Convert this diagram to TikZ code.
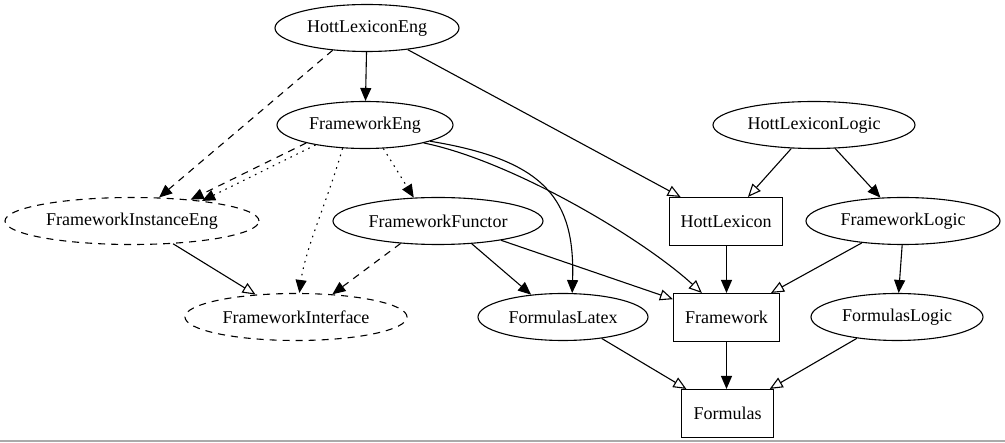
\documentclass[tikz,border=0pt]{standalone}
\usepackage{fontspec}
\setmainfont{Liberation Serif}
\usetikzlibrary{shapes.geometric,arrows.meta,calc}
\definecolor{bottomgray}{RGB}{170,170,170}
\begin{document}
\begin{tikzpicture}[x=1pt,y=-1pt,
  every node/.style={font=\fontsize{18}{21}\selectfont, inner sep=0pt},
  ell/.style={ellipse, draw, line width=1.1pt, minimum height=47pt},
  box/.style={rectangle, draw, line width=1.1pt, minimum height=48pt},
  dsh/.style={dash pattern=on 7pt off 6pt},
  dot/.style={dash pattern=on 1.6pt off 5pt},
  edge/.style={line width=1.1pt},
  fa/.style={edge, -{Triangle[length=13pt,width=11pt]}},
  oa/.style={edge, -{Triangle[open,length=13pt,width=11pt,fill=white]}},
]
\useasboundingbox (0,0) rectangle (1005,443);
\fill[white] (0,0) rectangle (1005,443);

% nodes
\node[ell, minimum width=184pt] (hle) at (367,28) {HottLexiconEng};
\node[ell, minimum width=176pt] (fe) at (365,125) {FrameworkEng};
\node[ell, minimum width=202pt] (hll) at (814,125) {HottLexiconLogic};
\node[ell, dsh, minimum width=254pt] (fie) at (132,221) {FrameworkInstanceEng};
\node[ell, minimum width=210pt] (ff) at (438,221) {FrameworkFunctor};
\node[box, minimum width=113pt] (hl) at (726,221.5) {HottLexicon};
\node[ell, minimum width=194pt] (flg) at (903,221) {FrameworkLogic};
\node[ell, dsh, minimum width=222pt] (fi) at (296,317) {FrameworkInterface};
\node[ell, minimum width=170pt] (fl) at (563,317) {FormulasLatex};
\node[box, minimum width=106pt] (fw) at (726.5,317.5) {Framework};
\node[ell, minimum width=172pt] (fol) at (897,317) {FormulasLogic};
\node[box, minimum width=92pt] (fo) at (727.5,413.5) {Formulas};

% edges
\draw[fa] (hle) -- (fe);
\draw[oa] (hle.-28) -- (hl);
\draw[fa,dsh] (hle.-147) -- (fie.41);
\draw[fa,dsh] (fe.-163) -- (fie.20);
\draw[fa,dot] (fe.-158) -- (fie.16);
\draw[fa,dot] (fe.-134) .. controls +(-14,50) and +(6,-45) .. (fi.82);
\draw[fa,dot] (fe.-52) -- (ff.136);
\draw[fa] (fe.-14) .. controls +(116,19) and +(3,-93) .. (fl.69);
\draw[oa] (fe.-17) .. controls +(88,18) and +(-60,-55) .. ($(fw.north west)!0.27!(fw.north east)$);
\draw[fa,dsh] (ff.-149) -- (fi.32);
\draw[oa] (fie.-29) -- (fi.151);
\draw[fa] (ff.-34) -- (fl.145);
\draw[oa] (ff.-17) -- (fw);
\draw[oa] (hll.-134) -- (hl);
\draw[fa] (hll.-48) -- (flg.134);
\draw[fa] (hl.south -| fw.north) -- (fw.north);
\draw[oa] (flg.-152) -- (fw);
\draw[fa] (flg.-92) -- (fol.86);
\draw[oa] (fl.-29) -- (fo);
\draw[fa] (fw.south) -- (fw.south |- fo.north);
\draw[oa] (fol.-152) -- (fo);

% bottom rule
\draw[bottomgray, line width=2pt] (0,441) -- (1005,441);
\end{tikzpicture}
\end{document}
